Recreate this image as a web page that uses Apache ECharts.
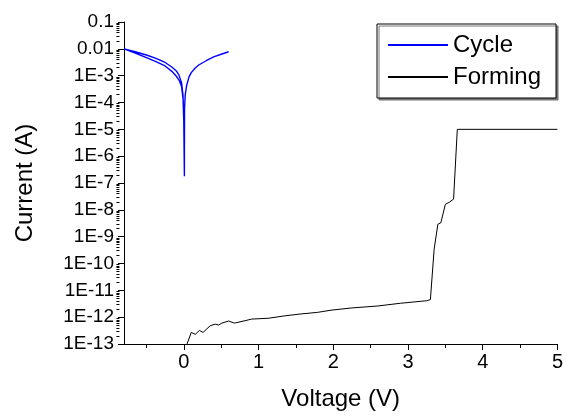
<!DOCTYPE html>
<html>
<head>
<meta charset="utf-8">
<script src="https://cdn.jsdelivr.net/npm/echarts@6/dist/echarts.min.js"></script>
<style>html,body{margin:0;padding:0;background:#fff}#c{width:566px;height:416px}</style>
</head>
<body>
<div id="c"></div>
<script>
// Cycle (blue) I-V loop
var cycleV = [0.6, 0.5, 0.4, 0.3, 0.2, 0.15, 0.1, 0.07, 0.04, 0.02, 0.01, 0.008,
  0.0, -0.01, -0.03, -0.066, -0.1, -0.16, -0.25, -0.38, -0.5, -0.65, -0.8,
  -0.65, -0.5, -0.38, -0.25, -0.16, -0.1, -0.066, -0.03, -0.01, 0.0,
  0.008, 0.01, 0.02, 0.04, 0.07, 0.1, 0.15, 0.2, 0.3, 0.4, 0.5, 0.6];
var cycleI = [7.8e-3, 6.3e-3, 5e-3, 3.6e-3, 2.5e-3, 1.9e-3, 1.3e-3, 9e-4, 4.5e-4, 2e-4, 6e-5, 1.8e-7,
  2e-5, 1.4e-4, 4e-4, 7e-4, 9.5e-4, 1.45e-3, 2.3e-3, 3.4e-3, 4.7e-3, 7e-3, 1e-2,
  7.8e-3, 5.9e-3, 4.5e-3, 3.1e-3, 2.1e-3, 1.5e-3, 1.07e-3, 5.5e-4, 1.8e-4, 3e-5,
  1.8e-7, 6e-5, 2e-4, 4.5e-4, 9e-4, 1.3e-3, 1.9e-3, 2.5e-3, 3.6e-3, 5e-3, 6.3e-3, 7.8e-3];

// Forming (black)
var formingV = [0.044, 0.10, 0.155, 0.21, 0.257, 0.354, 0.42, 0.465, 0.51, 0.60, 0.677, 0.82, 0.91,
  1.13, 1.35, 1.57, 1.79, 1.97, 2.24, 2.59, 2.90, 3.25, 3.30, 3.35, 3.40, 3.44, 3.50, 3.55, 3.61, 3.66, 5.0];
var formingI = [1e-13, 2.7e-13, 2.3e-13, 3.2e-13, 2.7e-13, 4.8e-13, 5.5e-13, 5.1e-13, 6e-13, 7.2e-13, 6e-13, 7.4e-13, 8.5e-13,
  9.1e-13, 1.12e-12, 1.32e-12, 1.51e-12, 1.82e-12, 2.2e-12, 2.6e-12, 3.3e-12, 4.1e-12, 4.5e-12, 3.4e-10, 2.9e-9, 3.3e-9,
  1.6e-8, 1.9e-8, 2.5e-8, 1e-5, 1e-5];

var xTicks = [0, 1, 2, 3, 4, 5];
var xMinorTicks = [-0.5, 0.5, 1.5, 2.5, 3.5, 4.5];
var yTickLabels = ['0.1', '0.01', '1E-3', '1E-4', '1E-5', '1E-6', '1E-7', '1E-8', '1E-9', '1E-10', '1E-11', '1E-12', '1E-13'];

var yTicks = yTickLabels.map(function (s, i) { return Math.pow(10, -1 - i); });
var yMinor = [];
for (var e = -13; e < -1; e++) {
  for (var m = 2; m <= 9; m++) yMinor.push(m * Math.pow(10, e));
}

function zip(a, b) { return a.map(function (v, i) { return [v, b[i]]; }); }

var GL = 124, GR = 4, GT = 22, GB = 71, W = 566, H = 416;
var FONT = 'Liberation Sans, Arial, sans-serif';
var chart = echarts.init(document.getElementById('c'));
chart.setOption({
  animation: false,
  backgroundColor: '#fff',
  grid: { left: GL, right: GR, top: GT, bottom: GB },
  legend: {
    orient: 'vertical',
    left: 377, top: 24,
    padding: [9, 15, 9, 10],
    itemWidth: 60, itemHeight: 14, itemGap: 8,
    backgroundColor: '#fff',
    borderColor: '#000', borderWidth: 1,
    shadowColor: '#777', shadowOffsetX: 2, shadowOffsetY: 2, shadowBlur: 0,
    itemStyle: { opacity: 0 },
    textStyle: { fontFamily: FONT, fontSize: 24, color: '#000', lineHeight: 24 },
    data: ['Cycle', 'Forming']
  },
  xAxis: [{
    type: 'value', min: -0.8, max: 5, position: 'bottom',
    name: 'Voltage (V)', nameLocation: 'middle', nameGap: 43,
    nameTextStyle: { fontFamily: FONT, fontSize: 24, color: '#000' },
    axisLine: { onZero: false, lineStyle: { color: '#000', width: 1 } },
    axisTick: { show: true, length: 6, customValues: xTicks, lineStyle: { color: '#000' } },
    axisLabel: { customValues: xTicks, fontFamily: FONT, fontSize: 20, color: '#000', margin: 8 },
    splitLine: { show: false }
  }, {
    type: 'value', min: -0.8, max: 5, position: 'top', offset: -(H - GT - GB),
    axisLine: { show: false, onZero: false },
    axisTick: { show: true, inside: true, length: 3, customValues: xMinorTicks, lineStyle: { color: '#000' } },
    axisLabel: { show: false },
    splitLine: { show: false }
  }],
  yAxis: [{
    type: 'log', logBase: 10, min: 1e-13, max: 0.1, position: 'left',
    name: 'Current (A)', nameLocation: 'middle', nameGap: 87,
    nameTextStyle: { fontFamily: FONT, fontSize: 24, color: '#000' },
    axisLine: { show: true, onZero: false, lineStyle: { color: '#000', width: 1 } },
    axisTick: { show: true, length: 6, customValues: yTicks, lineStyle: { color: '#000' } },
    axisLabel: {
      customValues: yTicks, fontFamily: FONT, fontSize: 19, color: '#000', margin: 10,
      formatter: function (v) {
        var i = Math.round(-Math.log10(v)) - 1;
        return yTickLabels[i];
      }
    },
    splitLine: { show: false }
  }, {
    type: 'log', logBase: 10, min: 1e-13, max: 0.1, position: 'right', offset: -(W - GL - GR),
    axisLine: { show: false, onZero: false },
    axisTick: { show: true, inside: true, length: 3, customValues: yMinor, lineStyle: { color: '#000' } },
    axisLabel: { show: false },
    splitLine: { show: false }
  }],
  series: [{
    name: 'Cycle', type: 'line', xAxisIndex: 0, yAxisIndex: 0,
    data: zip(cycleV, cycleI), showSymbol: false, symbol: 'none',
    lineStyle: { color: '#0000ff', width: 1.4 }, itemStyle: { color: '#0000ff' }
  }, {
    name: 'Forming', type: 'line', xAxisIndex: 0, yAxisIndex: 0,
    data: zip(formingV, formingI), showSymbol: false, symbol: 'none',
    lineStyle: { color: '#000', width: 1 }, itemStyle: { color: '#000' }
  }]
});
</script>
</body>
</html>
